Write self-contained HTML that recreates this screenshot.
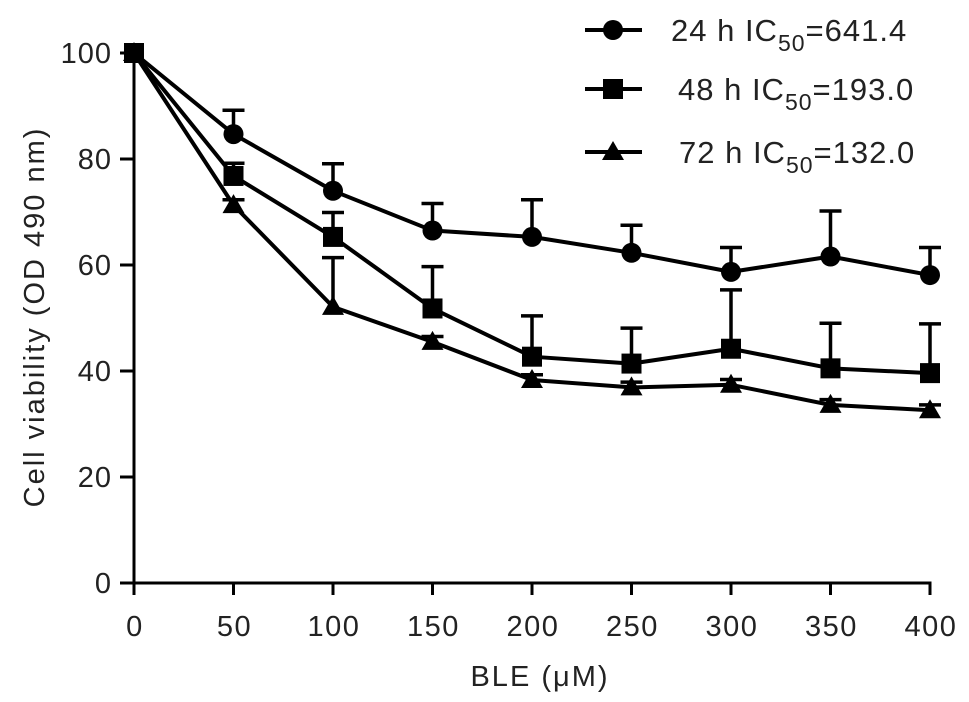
<!DOCTYPE html>
<html><head><meta charset="utf-8"><style>
html,body{margin:0;padding:0;background:#fff;}
svg{display:block;font-family:"Liberation Sans",sans-serif;}
</style></head><body>
<svg id="chart" width="969" height="702" viewBox="0 0 969 702">
<g id="axes"></g>
<g id="series"></g>
<g id="legend"></g>
</svg>
<script>
const doses = [0,50,100,150,200,250,300,350,400];
const v24 = [100,84.7,74.0,66.5,65.3,62.3,58.7,61.6,58.1];
const e24 = [0,4.5,5.1,5.1,7.0,5.2,4.6,8.6,5.2];
const v48 = [100,76.8,65.3,51.8,42.7,41.4,44.2,40.5,39.6];
const e48 = [0,2.4,4.6,7.9,7.7,6.7,11.1,8.5,9.3];
const v72 = [100,71.3,52.1,45.5,38.3,36.9,37.4,33.6,32.6];
const e72 = [0,1,9.3,1,1,1,1,1,1];
const yTicks = [0,20,40,60,80,100];
const xTicks = [0,50,100,150,200,250,300,350,400];
const legendLabels = ["24 h IC","48 h IC","72 h IC"];
const legendValues = ["=641.4","=193.0","=132.0"];

const NS="http://www.w3.org/2000/svg";
const X0=134,X1=930,Y0=583,Y1=53;
function sx(v){return X0+(v-0)/(400-0)*(X1-X0);}
function sy(v){return Y0-(v-0)/(100-0)*(Y0-Y1);}
function mk(tag,attrs,parent){const e=document.createElementNS(NS,tag);for(const k in attrs)e.setAttribute(k,attrs[k]);parent.appendChild(e);return e;}
const axes=document.getElementById('axes'),ser=document.getElementById('series'),leg=document.getElementById('legend');

let a=mk('line',{x1:X0,y1:Y1-2,x2:X0,y2:Y0+1.5,stroke:'#000','stroke-width':3},axes);


a=mk('line',{x1:X0-1.5,y1:Y0,x2:X1+1.5,y2:Y0,stroke:'#000','stroke-width':3},axes);


yTicks.forEach(t=>{
 const y=sy(t);
 const l=mk('line',{x1:X0-14,y1:y,x2:X0,y2:y,stroke:'#000','stroke-width':3},axes);
 
 
 const tx=mk('text',{x:X0-22,y:y+10,'text-anchor':'end','font-size':29,'letter-spacing':1,fill:'#222'},axes);
 tx.textContent=t;
 
 
});
xTicks.forEach(t=>{
 const x=sx(t);
 const l=mk('line',{x1:x,y1:Y0,x2:x,y2:Y0+12,stroke:'#000','stroke-width':3},axes);
 
 
 const tx=mk('text',{x:x+1,y:636,'text-anchor':'middle','font-size':29,'letter-spacing':1.5,fill:'#222'},axes);
 tx.textContent=t;
 
 
});
let t=mk('text',{x:sx(200)+8,y:686,'text-anchor':'middle','font-size':29,'letter-spacing':2,fill:'#222'},axes);
t.textContent='BLE (μM)';


t=mk('text',{x:0,y:0,'text-anchor':'middle','font-size':29,'letter-spacing':2,fill:'#222',transform:'translate(44,317) rotate(-90)'},axes);
t.textContent='Cell viability (OD 490 nm)';



function marker(type,x,y,parent){
 let m;
 if(type==='circle') m=mk('circle',{cx:x,cy:y,r:10,fill:'#000'},parent);
 else if(type==='square') m=mk('rect',{x:x-10,y:y-10,width:20,height:20,fill:'#000'},parent);
 else m=mk('polygon',{points:(x)+','+(y-11)+' '+(x-11)+','+(y+8)+' '+(x+11)+','+(y+8),fill:'#000'},parent);
 return m;
}
function drawSeries(vals,errs,type,name){
 const g=mk('g',{},ser);
 
 
 vals.forEach((v,i)=>{
  if(errs[i]>0){
   const x=sx(doses[i]),y=sy(v),yt=sy(v+errs[i]);
   const e=mk('path',{d:'M'+x+','+y+'V'+yt+'M'+(x-11)+','+yt+'H'+(x+11),stroke:'#000','stroke-width':3.5,fill:'none'},g);
   
   
  }
 });
 const p=mk('polyline',{points:vals.map((v,i)=>sx(doses[i])+','+sy(v)).join(' '),stroke:'#000','stroke-width':4,fill:'none','stroke-linejoin':'round'},g);
 
 
 vals.forEach((v,i)=>{
  const m=marker(type,sx(doses[i]),sy(v),g);
  
  
 });
}
drawSeries(v72,e72,'triangle','series-72h');
drawSeries(v48,e48,'square','series-48h');
drawSeries(v24,e24,'circle','series-24h');

const types=['circle','square','triangle'],ly=[30,89,152],lx=[671,678,679];
types.forEach((tp,i)=>{
 const g=mk('g',{},leg);
 
 
 mk('line',{x1:585,y1:ly[i],x2:642,y2:ly[i],stroke:'#000','stroke-width':4},g);
 marker(tp,613,ly[i],g);
 const tx=mk('text',{x:lx[i],y:ly[i]+11,'font-size':31,'letter-spacing':1,fill:'#222'},g);
 tx.textContent=legendLabels[i];
 const sub=mk('tspan',{dy:10,'font-size':23},tx);
 sub.textContent='50';
 const rest=mk('tspan',{dy:-10},tx);
 rest.textContent=legendValues[i];
});
</script>
</body></html>
